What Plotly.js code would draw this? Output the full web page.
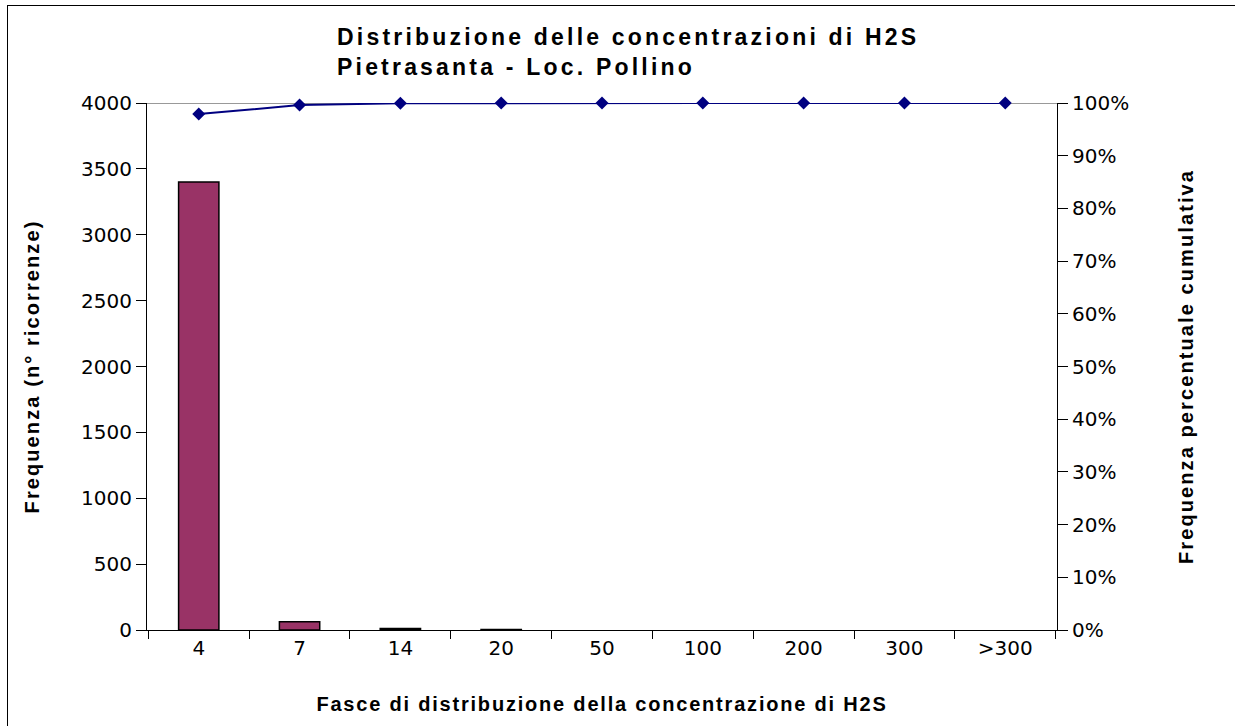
<!DOCTYPE html>
<html>
<head>
<meta charset="utf-8">
<script src="https://cdn.plot.ly/plotly-3.0.1.min.js"></script>
<style>
  html, body { margin: 0; background: #fff; overflow: hidden; }
  #chart { width: 1235px; height: 726px; }
  #frame { position: absolute; left: 7px; top: 5px; width: 1228px; height: 721px;
           border-left: 1.5px solid #000; border-top: 1.5px solid #000; pointer-events: none; box-sizing: border-box; }
  .gtitle { letter-spacing: 3.2px; }
  .xtitle { letter-spacing: 1.8px; }
  .ytitle, .y2title { letter-spacing: 2.1px; }
</style>
</head>
<body>
<div id="chart"></div>
<div id="frame"></div>
<script>
const categories = ["4", "7", "14", "20", "50", "100", "200", "300", ">300"];
const frequenza = [3400, 63, 12, 4, 0, 0, 0, 0, 0];
const cumulativa = [0.979, 0.996, 0.9995, 1.0, 1.0, 1.0, 1.0, 1.0, 1.0];
const leftTicks = [0, 500, 1000, 1500, 2000, 2500, 3000, 3500, 4000];

const tickFont = { family: "DejaVu Sans, Liberation Sans, Arial", size: 20, color: "#000" };
const titleFont = { family: "Liberation Sans, Arial", size: 20, color: "#000", weight: "bold" };

const traces = [
  {
    type: "bar", x: categories, y: frequenza, width: 0.4,
    marker: { color: "#993366", line: { color: "#000", width: frequenza.map(v => v > 0 ? 1.5 : 0) } },
    hoverinfo: "x+y", showlegend: false
  },
  {
    type: "scatter", mode: "lines+markers", x: categories, y: cumulativa, yaxis: "y2",
    line: { color: "#000080", width: 2 },
    marker: { symbol: "diamond", size: 10, color: "#000080" },
    showlegend: false, cliponaxis: false
  }
];

const baseLine = { showline: false, showgrid: false, zeroline: false, showticklabels: false,
                   ticks: "inside", ticklen: 10, tickcolor: "#000", tickwidth: 1 };

const layout = {
  width: 1235, height: 726,
  margin: { l: 147, r: 178, t: 103, b: 96 },
  paper_bgcolor: "#fff", plot_bgcolor: "rgba(0,0,0,0)",
  title: {
    text: "<b>Distribuzione delle concentrazioni di H2S<br>Pietrasanta - Loc. Pollino</b>",
    font: { family: "Liberation Sans, Arial", size: 23, color: "#000" },
    x: 337 / 1235, xref: "container", xanchor: "left", align: "left",
    y: 1 - 45 / 726, yref: "container", yanchor: "top"
  },
  xaxis: {
    type: "category", tickson: "boundaries", ticks: "outside", ticklen: 8,
    tickcolor: "#000", tickwidth: 1, showline: true, linecolor: "#000", linewidth: 1,
    showgrid: false, tickfont: tickFont, zeroline: false,
    title: { text: "Fasce di distribuzione della concentrazione di H2S", font: titleFont, standoff: 37 }
  },
  xaxis2: Object.assign({ overlaying: "x", anchor: "y", side: "bottom", range: [-0.5, 8.5],
                          tick0: -0.5, dtick: 1 }, baseLine),
  yaxis: {
    range: [0, 4000], tickvals: leftTicks, ticks: "outside", ticklen: 10,
    tickcolor: "#000", showline: true, linecolor: "#000", linewidth: 1,
    showgrid: false, zeroline: false, tickfont: tickFont,
    title: { text: "Frequenza (n° ricorrenze)", font: titleFont, standoff: 36 }
  },
  yaxis2: {
    overlaying: "y", side: "right", range: [0, 1], dtick: 0.1, tickformat: ".0%",
    ticks: "outside", ticklen: 10, tickcolor: "#000", showline: true, linecolor: "#000",
    linewidth: 1, showgrid: false, zeroline: false, tickfont: tickFont,
    title: { text: "Frequenza percentuale cumulativa", font: titleFont, standoff: 50 }
  },
  yaxis3: Object.assign({ overlaying: "y", side: "left", anchor: "x", range: [0, 4000], tickvals: leftTicks }, baseLine),
  yaxis4: Object.assign({ overlaying: "y", side: "right", anchor: "x", range: [0, 1], dtick: 0.1 }, baseLine),
  shapes: [
    { type: "line", xref: "paper", x0: 0, x1: 1, yref: "y", y0: 4000, y1: 4000,
      line: { color: "#999", width: 2 }, layer: "below" }
  ]
};

Plotly.newPlot("chart", traces, layout, { displayModeBar: false, staticPlot: true });
</script>
</body>
</html>
